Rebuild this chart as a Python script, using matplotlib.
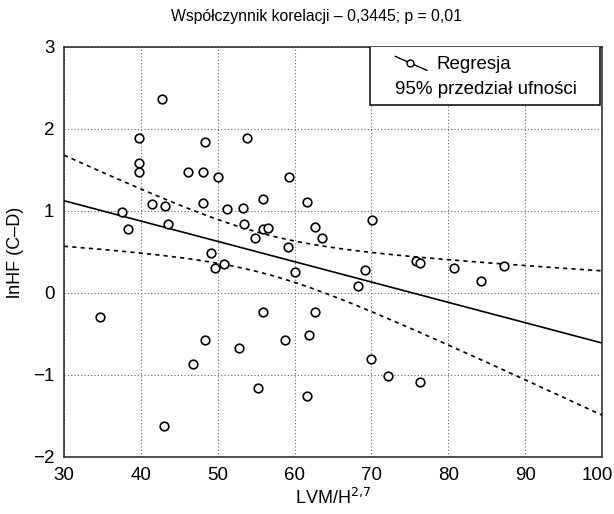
import numpy as np
import matplotlib

matplotlib.use("Agg")
import matplotlib.pyplot as plt  # noqa: E402
from matplotlib.transforms import ScaledTranslation  # noqa: E402

# LVM/H^2.7 vs lnHF (C-D)
lvm = [42.7, 39.7, 48.4, 53.8, 39.8, 39.8, 46.1, 48.1, 50.1, 59.3,
       41.4, 43.2, 48.1, 51.2, 53.3, 55.9, 61.6, 37.5, 38.3, 43.5,
       53.4, 55.9, 56.5, 54.8, 62.6, 63.6, 59.2, 49.1, 49.7, 50.8,
       60.0, 34.7, 55.9, 62.7, 48.4, 58.8, 61.9, 52.8, 46.8, 55.2,
       61.6, 43.0, 70.1, 75.8, 76.3, 80.7, 87.2, 84.2, 69.1, 68.2,
       70.0, 72.1, 76.3]
lnhf = [2.36, 1.89, 1.84, 1.89, 1.58, 1.47, 1.47, 1.47, 1.42, 1.42,
        1.09, 1.06, 1.10, 1.03, 1.04, 1.15, 1.11, 0.99, 0.78, 0.84,
        0.84, 0.78, 0.79, 0.67, 0.80, 0.67, 0.56, 0.49, 0.31, 0.35,
        0.26, -0.29, -0.23, -0.23, -0.57, -0.57, -0.51, -0.67, -0.86, -1.16,
        -1.26, -1.62, 0.89, 0.39, 0.36, 0.31, 0.33, 0.15, 0.28, 0.09,
        -0.81, -1.01, -1.08]

x = np.array(lvm)
y = np.array(lnhf)
n = len(x)
slope, icpt = np.polyfit(x, y, 1)
xs = np.linspace(30, 100, 200)
yh = icpt + slope * xs
# 95% confidence band of the fitted line
s = np.sqrt(np.sum((y - (icpt + slope * x)) ** 2) / (n - 2))
se = s * np.sqrt(1 / n + (xs - x.mean()) ** 2 / np.sum((x - x.mean()) ** 2))
t = 2.008

plt.rcParams["font.family"] = ["Liberation Sans", "DejaVu Sans"]
fig = plt.figure(figsize=(6.14, 5.14), dpi=100, facecolor="white")
ax = fig.add_axes([0.1042, 0.1109, 0.8763, 0.7977])

ax.plot(xs, yh, color="black", lw=1.2)
ax.plot(xs, yh + t * se, color="black", lw=1.2, ls=(0, (2.5, 2.5)))
ax.plot(xs, yh - t * se, color="black", lw=1.2, ls=(0, (2.5, 2.5)))
ax.plot(x, y, "o", ms=6.2, mfc="white", mec="black", mew=1.2, ls="none", zorder=3)

ax.set_xlim(30, 100)
ax.set_ylim(-2, 3)
ax.set_xticks(range(30, 101, 10))
ax.set_yticks(range(-2, 4))
ax.grid(True, color="#666666", ls=(0, (1, 2)), lw=0.8)
ax.tick_params(length=0, labelsize=13.5, pad=7)
for sp in ax.spines.values():
    sp.set_color("#222222")
    sp.set_linewidth(1.1)
# keep "100" inside the canvas
last = ax.get_xticklabels()[-1]
last.set_transform(last.get_transform() + ScaledTranslation(-5 / 100, 0, fig.dpi_scale_trans))

ax.set_xlabel("LVM/H$^{2{,}7}$", fontsize=13, labelpad=3)
ax.set_ylabel("lnHF (C–D)", fontsize=13, labelpad=6)
fig.text(0.515, 0.967, "Współczynnik korelacji – 0,3445; p = 0,01", fontsize=11.3,
         ha="center", va="center")

# legend box drawn by hand: one handle, second line text only
ax.add_patch(plt.Rectangle((0.5692, 0.8595), 0.4262, 0.1812, transform=ax.transAxes,
                           fill=True, facecolor="white", edgecolor="black", lw=1.1, zorder=4))
ax.plot([0.6157, 0.6747], [0.9771, 0.9429], transform=ax.transAxes, color="black", lw=1.0, zorder=5)
ax.plot([0.6437], [0.9610], "o", transform=ax.transAxes, ms=5, mfc="white", mec="black",
        mew=1.0, zorder=6)
ax.text(0.6930, 0.9575, "Regresja", transform=ax.transAxes, fontsize=13.5, va="center", zorder=6)
ax.text(0.6157, 0.8960, "95% przedział ufności", transform=ax.transAxes, fontsize=13.5,
        va="center", zorder=6)

fig.savefig("out.png", dpi=100, facecolor="white")
